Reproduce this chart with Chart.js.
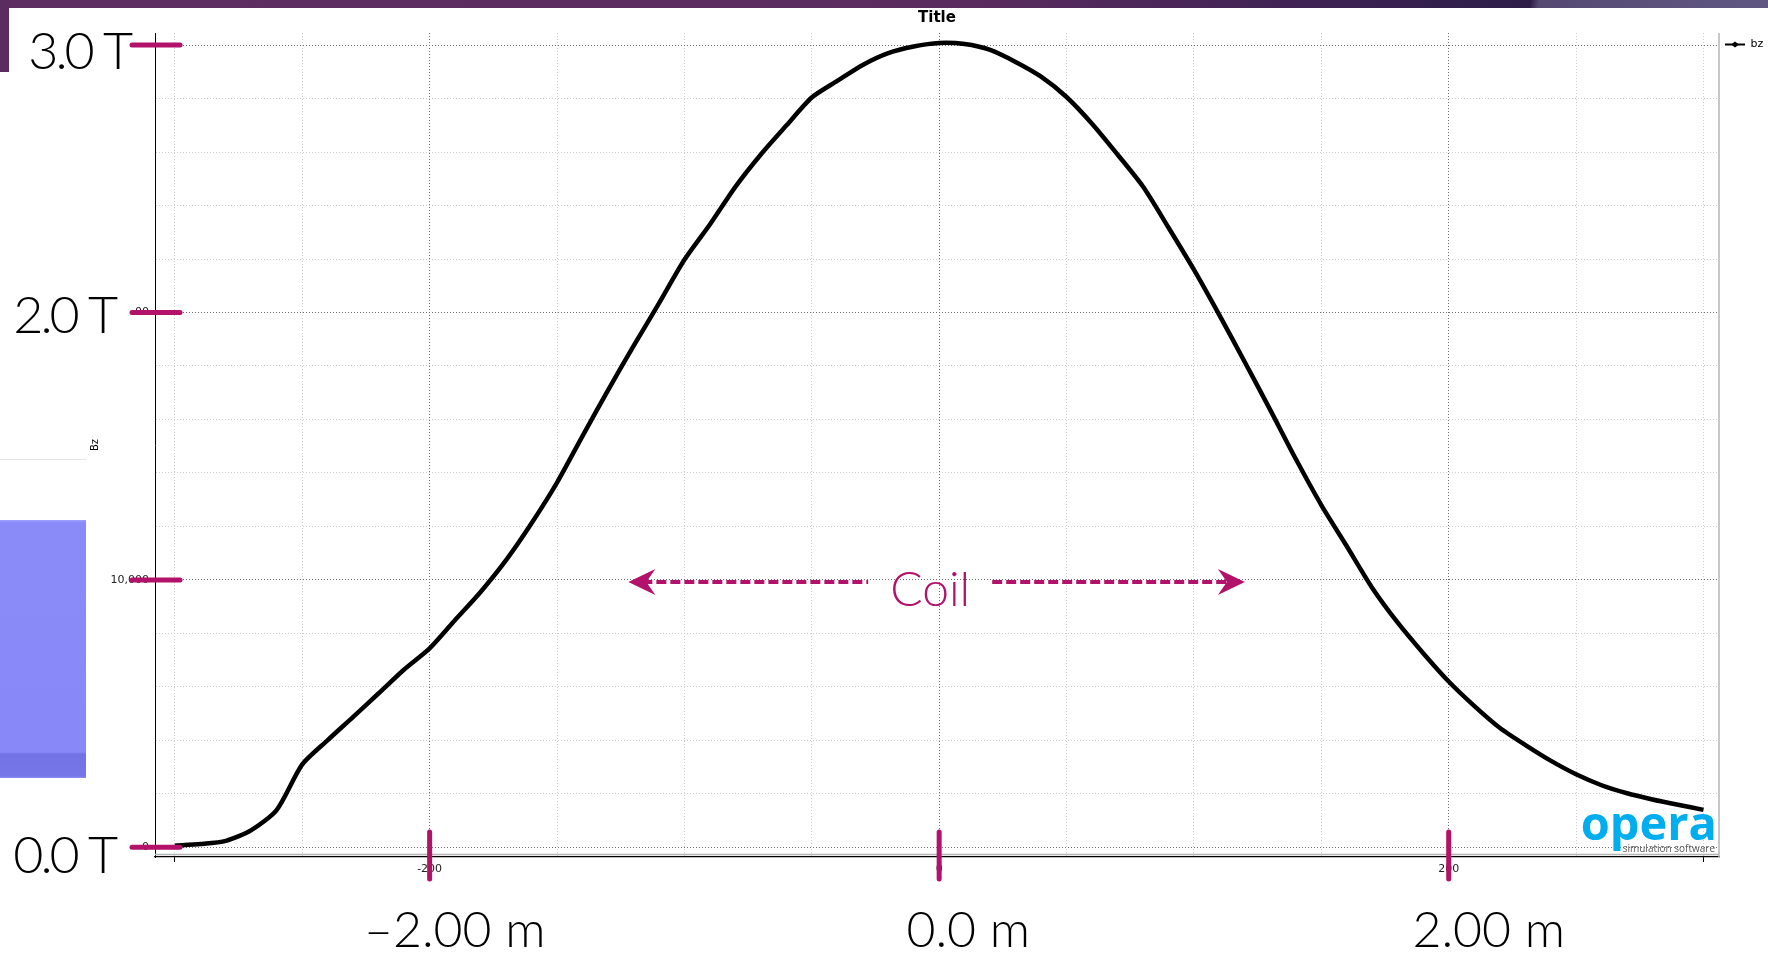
<!DOCTYPE html>
<html>
<head>
<meta charset="utf-8">
<title>Bz on axis</title>
<script src="https://cdn.jsdelivr.net/npm/chart.js@4.4.1/dist/chart.umd.min.js"></script>
<style>
  html, body { margin: 0; padding: 0; background: #fff; }
  #slide { position: relative; width: 1768px; height: 954px; overflow: hidden; background: #fff; }
  .topbar { position: absolute; left: 0; top: 0; width: 1768px; height: 8px;
    background: linear-gradient(100deg, #5e2e62 0%, #5a2b5f 55%, #3b2252 76%, #2c1d47 86.5%, #554972 87%, #605883 100%); }
  .leftbar { position: absolute; left: 0; top: 0; width: 9px; height: 72px; background: #5b2c5f; }
  .rule { position: absolute; left: 0; top: 459px; width: 86px; height: 1px; background: #e4e4e4; }
  .block { position: absolute; left: 0; top: 520px; width: 86px; height: 258px;
    background: linear-gradient(#a0a0fb 0, #8a8af8 3px, #8888f8 232px, #7373e6 234px, #7676e9 256px, #8e8ef6 258px); }
  canvas { position: absolute; left: 0; top: 0; }
</style>
</head>
<body>
<div id="slide">
  <div class="topbar"></div>
  <div class="leftbar"></div>
  <div class="rule"></div>
  <div class="block"></div>
  <canvas id="chart" width="1768" height="954"></canvas>
</div>
<script>
/* ---------- data: position along the axis (cm) and Bz (gauss) ---------- */
const zCm = [-300, -290, -280, -270, -260, -250, -240, -230, -220, -210,
  -200, -190, -180, -170, -160, -150, -140, -130, -120, -110,
  -100, -90, -80, -70, -60, -50, -40, -30, -20, -10,
  0, 10, 20, 30, 40, 50, 60, 70, 80, 90,
  100, 110, 120, 130, 140, 150, 160, 170, 180, 190,
  200, 210, 220, 230, 240, 250, 260, 270, 280, 290, 300];
const bzGauss = [60, 120, 240, 640, 1400, 3100, 4010, 4880, 5760, 6650,
  7440, 8500, 9550, 10740, 12120, 13640, 15380, 17090, 18740, 20340,
  21970, 23290, 24700, 25910, 26990, 28040, 28660, 29260, 29700, 29950,
  30080, 30040, 29820, 29370, 28820, 28060, 27060, 25910, 24710, 23180,
  21600, 19900, 18140, 16350, 14520, 12800, 11260, 9700, 8400, 7260,
  6200, 5290, 4470, 3830, 3240, 2730, 2320, 2020, 1790, 1590, 1400];

/* ---------- ticks / grid ---------- */
const fieldGrid = [0, 2000, 4000, 6000, 8000, 10000, 12000, 14000, 16000, 18000,
  20000, 22000, 24000, 26000, 28000, 30000];
const posGrid = [-300, -250, -200, -150, -100, -50, 0, 50, 100, 150, 200, 250, 300];
const posLabelled = [-200, 0, 200];

/* ---------- slide annotations ---------- */
const fieldMarks = [0, 10000, 20000, 30000];
const fieldMarkLabels = ['0.0 T', '', '2.0 T', '3.0 T'];
const posMarks = [-200, 0, 200];
const posMarkLabels = ['\u20132.00 m', '0.0 m', '2.00 m'];
const coilSpan = [-122, 120];

const MAGENTA = '#b3126a';
const tickFont = { family: 'DejaVu Sans', size: 11 };

function line(ctx, x1, y1, x2, y2) {
  ctx.beginPath();
  ctx.moveTo(x1, y1);
  ctx.lineTo(x2, y2);
  ctx.stroke();
}

function arrowhead(ctx, tipX, y, dir) {
  ctx.beginPath();
  ctx.moveTo(tipX, y);
  ctx.lineTo(tipX + dir * 27, y - 13);
  ctx.lineTo(tipX + dir * 18, y);
  ctx.lineTo(tipX + dir * 27, y + 13);
  ctx.closePath();
  ctx.fill();
}

const slideMarks = {
  id: 'slideMarks',
  afterDraw(chart) {
    const { ctx, chartArea: area, scales: { x, y } } = chart;
    ctx.save();

    // grey frame on the right and above the x axis
    ctx.strokeStyle = '#b4b4b4';
    ctx.lineWidth = 1.5;
    line(ctx, area.right, area.top, area.right, area.bottom);
    line(ctx, area.left, area.bottom - 2.5, area.right, area.bottom - 2.5);

    // marker on the legend line
    const hb = chart.legend.legendHitBoxes[0];
    if (hb) {
      const cx = hb.left + 10, cy = hb.top + hb.height / 2;
      ctx.fillStyle = '#000';
      ctx.beginPath();
      ctx.moveTo(cx - 4, cy); ctx.lineTo(cx, cy - 3); ctx.lineTo(cx + 4, cy); ctx.lineTo(cx, cy + 3);
      ctx.closePath();
      ctx.fill();
    }

    // opera logo
    ctx.textAlign = 'right';
    ctx.textBaseline = 'alphabetic';
    ctx.fillStyle = '#00aeef';
    ctx.font = 'bold 47px "Open Sans"';
    ctx.fillText('opera', area.right - 2, area.bottom - 17);
    ctx.fillStyle = '#5a5a5a';
    ctx.font = '10px "Open Sans"';
    ctx.fillText('simulation software', area.right - 4, area.bottom - 5);

    // slide text boxes (white) sit over the chart's own tick labels
    ctx.fillStyle = '#fff';
    fieldMarks.forEach((v, i) => {
      const text = fieldMarkLabels[i];
      if (!text || v === 0) return;
      const py = y.getPixelForValue(v);
      const boxRight = text === '3.0 T' ? area.left - 3 : area.left - 19;
      ctx.fillRect(10, py - 14, boxRight - 10, 30);
    });

    // magenta axis markers
    ctx.strokeStyle = MAGENTA;
    ctx.lineWidth = 5;
    ctx.lineCap = 'round';
    fieldMarks.forEach(v => {
      const py = y.getPixelForValue(v);
      line(ctx, area.left - 23, py, area.left + 25, py);
    });
    posMarks.forEach(v => {
      const px = x.getPixelForValue(v);
      line(ctx, px, area.bottom - 25, px, area.bottom + 22);
    });

    // big slide labels
    ctx.fillStyle = '#000';
    ctx.font = '300 52px Lato';
    ctx.letterSpacing = '-3px';
    ctx.textAlign = 'right';
    const labelDrop = { '0.0 T': 26, '2.0 T': 20, '3.0 T': 24 };
    fieldMarks.forEach((v, i) => {
      const text = fieldMarkLabels[i];
      if (!text) return;
      const py = y.getPixelForValue(v);
      const right = text === '3.0 T' ? area.left - 25 : area.left - 40;
      ctx.fillText(text, right, py + labelDrop[text]);
    });
    ctx.letterSpacing = '0px';
    ctx.font = '300 50px Lato';
    ctx.textAlign = 'center';
    const labelShift = [25, 29, 40];
    posMarks.forEach((v, i) => {
      ctx.fillText(posMarkLabels[i], x.getPixelForValue(v) + labelShift[i], 947);
    });

    // coil extent
    const cy = y.getPixelForValue(10000) + 2;
    const xl = x.getPixelForValue(coilSpan[0]);
    const xr = x.getPixelForValue(coilSpan[1]);
    const cx = x.getPixelForValue(0) - 9;
    ctx.fillStyle = MAGENTA;
    ctx.font = '300 48px Lato';
    ctx.fillText('Coil', cx, cy + 24);
    const half = ctx.measureText('Coil').width / 2 + 22;
    ctx.lineWidth = 4;
    ctx.lineCap = 'butt';
    ctx.setLineDash([10, 4]);
    line(ctx, xl + 14, cy, cx - half, cy);
    line(ctx, cx + half, cy, xr - 14, cy);
    ctx.setLineDash([]);
    arrowhead(ctx, xl, cy, 1);
    arrowhead(ctx, xr, cy, -1);

    ctx.restore();
  }
};

new Chart(document.getElementById('chart'), {
  type: 'line',
  data: {
    datasets: [{
      label: 'bz',
      data: zCm.map((z, i) => ({ x: z, y: bzGauss[i] })),
      borderColor: '#000',
      backgroundColor: '#000',
      borderWidth: 4.5,
      pointRadius: 0,
      tension: 0.25
    }]
  },
  options: {
    responsive: false,
    animation: false,
    layout: { padding: 0 },
    plugins: {
      title: {
        display: true,
        text: 'Title',
        fullSize: false,
        color: '#000',
        font: { family: 'DejaVu Sans', size: 15, weight: 'bold' },
        padding: { top: 9.5, bottom: 5.5 }
      },
      legend: {
        position: 'right',
        align: 'start',
        fullSize: false,
        maxWidth: 49,
        labels: {
          color: '#000',
          font: tickFont,
          boxWidth: 20,
          boxHeight: 2,
          padding: 6,
          generateLabels: chart => Chart.defaults.plugins.legend.labels.generateLabels(chart)
            .map(l => ({ ...l, lineWidth: 0 }))
        }
      },
      tooltip: { enabled: false }
    },
    scales: {
      x: {
        type: 'linear',
        min: -307.8,
        max: 306.1,
        afterBuildTicks: s => { s.ticks = posGrid.map(v => ({ value: v })); },
        afterFit: s => { s.height = 97; },
        ticks: {
          autoSkip: false,
          maxRotation: 0,
          padding: 1,
          color: '#222',
          font: tickFont,
          callback: v => posLabelled.includes(v) ? String(v) : ''
        },
        grid: {
          color: c => posLabelled.includes(c.tick && c.tick.value) ? '#6e6e6e' : '#cdcdcd',
          lineWidth: 1,
          tickLength: 5,
          tickColor: c => Math.abs(c.tick.value) % 100 === 0 && c.tick.value !== 100 && c.tick.value !== -100 ? '#000' : 'rgba(0,0,0,0)'
        },
        border: { color: '#000', width: 1.2, dash: [1, 2] }
      },
      y: {
        type: 'linear',
        min: -363,
        max: 30453,
        afterBuildTicks: s => { s.ticks = fieldGrid.map(v => ({ value: v })); },
        afterFit: s => { s.width = 155; },
        title: {
          display: true,
          text: 'Bz',
          color: '#000',
          font: { family: 'DejaVu Sans', size: 10 },
          padding: { top: 89, bottom: 0 }
        },
        ticks: {
          autoSkip: false,
          padding: 6,
          color: '#222',
          font: tickFont,
          callback: v => v % 10000 === 0 ? v.toLocaleString('en-US') : ''
        },
        grid: {
          color: c => c.tick && c.tick.value % 10000 === 0 ? '#6e6e6e' : '#cdcdcd',
          lineWidth: 1,
          drawTicks: false
        },
        border: { color: '#000', width: 1, dash: [1, 2] }
      }
    }
  },
  plugins: [slideMarks]
});
</script>
</body>
</html>
